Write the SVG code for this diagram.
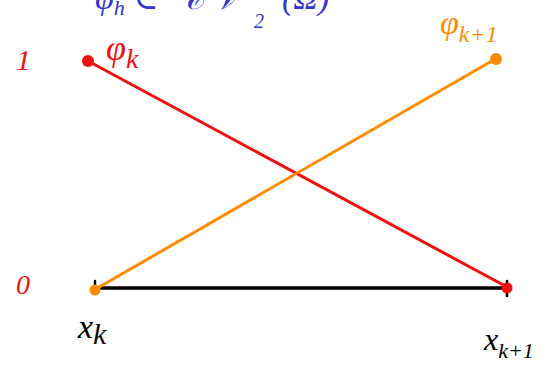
<svg xmlns="http://www.w3.org/2000/svg" width="547" height="371" viewBox="0 0 547 371">
<style>
.lbl{font-family:"Liberation Serif","DejaVu Serif",serif;font-style:italic}
.red{fill:#f01010}
.org{fill:#ff8c00}
.blk{fill:#000}
.blue{fill:#3535d0}
</style>
<rect width="547" height="371" fill="#fff"/>
<g id="title">
<text class="lbl blue" x="95" y="9" font-size="34">φ<tspan font-size="22" dy="6">h</tspan><tspan dy="-6"> ∈ </tspan></text>
<text class="lbl blue" x="180" y="9" font-size="34">𝒞 𝒱</text>
<text class="lbl blue" x="254" y="28" font-size="20">2</text>
<text class="lbl blue" x="282" y="9" font-size="34">(Ω)</text>
</g>
<g id="connectors" stroke-linecap="round">
<line x1="94" y1="288" x2="507" y2="288" stroke="#000" stroke-width="3.5"/>
<line x1="95" y1="281" x2="95" y2="292" stroke="#000" stroke-width="2.5"/>
<line x1="507" y1="281" x2="507" y2="296" stroke="#000" stroke-width="2.5"/>
<line x1="88" y1="61" x2="507" y2="287" stroke="#f01010" stroke-width="3"/>
<line x1="94" y1="290" x2="497" y2="58" stroke="#ff8c00" stroke-width="3"/>
</g>
<g id="phi_k">
<circle cx="88" cy="61" r="6" class="red"/>
<text class="lbl red" x="106" y="60" font-size="36">φ<tspan font-size="28" dy="8">k</tspan></text>
</g>
<g id="phi_k1">
<circle cx="496" cy="59" r="6" class="org"/>
<text class="lbl org" x="440" y="34" font-size="34">φ<tspan font-size="24" dy="8">k+1</tspan></text>
</g>
<g id="y1"><text class="lbl red" x="16" y="70" font-size="30">1</text></g>
<g id="y0"><text class="lbl red" x="16" y="294" font-size="28">0</text></g>
<g id="dot0"><circle cx="95" cy="290" r="5.5" class="org"/></g>
<g id="dot1"><circle cx="507" cy="288" r="5.5" class="red"/></g>
<g id="xk"><text class="lbl blk" x="78" y="338" font-size="34">x<tspan font-size="30" dy="6">k</tspan></text></g>
<g id="xk1"><text class="lbl blk" x="484" y="350" font-size="32">x<tspan font-size="22" dy="8">k+1</tspan></text></g>
</svg>
